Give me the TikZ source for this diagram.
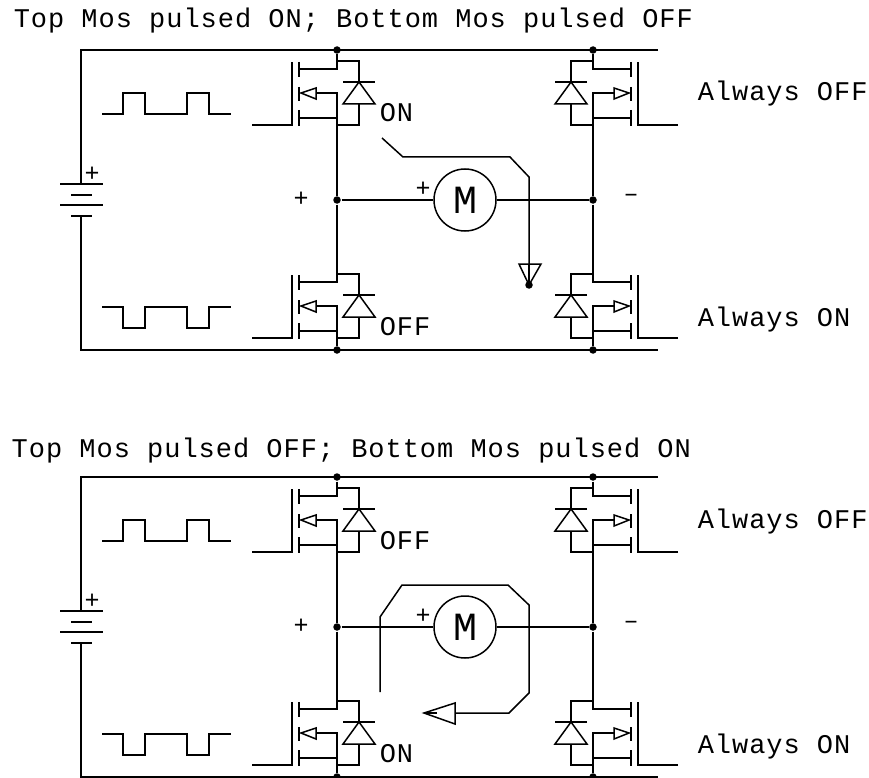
\documentclass[tikz,border=0pt]{standalone}
\usepackage{fontspec}
\setmainfont{Liberation Mono}[LetterSpace=3.6]
\newfontfamily\motorfont{Liberation Mono}
\tikzset{
  x=1pt,y=-1pt,
  every path/.style={line width=1.5pt,line join=miter,line cap=butt},
  lbl/.style={anchor=base west,inner sep=0pt,font=\fontsize{27}{30}\selectfont},
  sgn/.style={inner sep=0pt,font=\motorfont\fontsize{25}{28}\selectfont},
  dot/.style={circle,fill=black,draw=none,minimum size=7.5pt,inner sep=0pt},
  motor/.style={circle,draw,minimum size=62pt,inner sep=0pt,font=\motorfont\fontsize{40}{40}\selectfont},
  hbridge mos/.pic={
    \coordinate (d) at (0,-1);
    \coordinate (s) at (0,63);
    \coordinate (g) at (-85,63);
    \draw (g) -- (-45,63) -- (-45,0);
    \draw (-38,0) -- (-38,15) (-38,25) -- (-38,39) (-38,48) -- (-38,64);
    \draw (-38,7) -- (0,7) -- (d) -- (22,-1) -- (22,20);
    \draw (6,20) -- (38,20);
    \draw (22,20) -- (6,42) -- (38,42) -- cycle;
    \draw (22,42) -- (22,63) -- (s) -- (0,31) -- (-21,31);
    \draw (-21,26) -- (-21,37) -- (-36,31) -- cycle;
    \draw (-38,56) -- (0,56);
  }
}
\newcommand{\bridgepanel}[7]{%
  \begin{scope}[shift={(0,#1)},name prefix=#2-]
    \node[lbl] (title) at (#7) {#3};
    \coordinate (tlc) at (81,50);
    \coordinate (trc) at (658,50);
    \coordinate (blc) at (81,350);
    \coordinate (brc) at (658,350);
    \node[dot] (jt1) at (337,50) {};
    \node[dot] (jt2) at (593,50) {};
    \node[dot] (jm1) at (337,200) {};
    \node[dot] (jm2) at (593,200) {};
    \node[dot] (jb1) at (337,350) {};
    \node[dot] (jb2) at (593,350) {};
    \coordinate (bp1) at (81,184);
    \coordinate (bp4) at (81,216);
    \draw (trc) -- (tlc) -- (bp1);
    \draw (bp4) -- (blc) -- (brc);
    \draw (60,184) -- (103,184);
    \draw[line width=2pt] (71,195) -- (92,195);
    \draw (60,205) -- (103,205);
    \draw[line width=2pt] (71,216) -- (92,216);
    \node[sgn] (bplus) at (92,174) {+};
    \draw (102,114) -- (123,114) -- (123,93) -- (145,93) -- (145,114) -- (187,114) -- (187,93) -- (209,93) -- (209,114) -- (231,114);
    \draw (102,307) -- (123,307) -- (123,328) -- (145,328) -- (145,307) -- (187,307) -- (187,328) -- (209,328) -- (209,307) -- (231,307);
    \pic (tl) at (337,62) {hbridge mos};
    \pic (bl) at (337,275) {hbridge mos};
    \pic[xscale=-1] (tr) at (593,62) {hbridge mos};
    \pic[xscale=-1] (br) at (593,275) {hbridge mos};
    \draw (jt1) -- (tld);
    \draw (jt2) -- (trd);
    \draw (tls) -- (jm1) -- (bld);
    \draw (trs) -- (jm2) -- (brd);
    \draw (bls) -- (jb1);
    \draw (brs) -- (jb2);
    \node[motor] (mot) at (465,200) {M};
    \draw (jm1) -- (mot);
    \draw (mot) -- (jm2);
    \node[sgn] (mplus) at (423,189) {+};
    \node[sgn] (lplus) at (301,199) {+};
    \node[sgn] (rminus) at (631,198) {–};
    \node[lbl] (tlab) at (379,#5) {#4};
    \node[lbl] (blab) at (379,335) {#6};
    \node[lbl] (aoff) at (697,101) {Always OFF};
    \node[lbl] (aon) at (697,326) {Always ON};
  \end{scope}%
}
\begin{document}
\begin{tikzpicture}
\useasboundingbox (0,0) rectangle (869,778);
\bridgepanel{0}{a}{Top Mos pulsed ON; Bottom Mos pulsed OFF}{ON}{122}{OFF}{13,28}
\bridgepanel{427}{b}{Top Mos pulsed OFF; Bottom Mos pulsed ON}{OFF}{122}{ON}{11,30}
% current paths
\coordinate (ca0) at (382,138);
\coordinate (ca1) at (529,264);
\coordinate (ca2) at (529,285);
\draw (ca0) -- (403,157) -- (510,157) -- (529,177) -- (ca1);
\draw (519,264) -- (541,264) -- (ca2) -- cycle;
\draw (ca1) -- (ca2);
\node[dot] (catip) at (ca2) {};
\coordinate (cb0) at (380,692);
\coordinate (cb1) at (455,713);
\coordinate (cb2) at (424,713);
\draw (cb0) -- (380,617) -- (402,585) -- (508,585) -- (529,605) -- (529,693) -- (509,713) -- (cb1);
\draw (455,703) -- (455,724) -- (cb2) -- cycle;
\draw[line width=2.5pt] (cb2) -- (437,713);
\end{tikzpicture}
\end{document}
